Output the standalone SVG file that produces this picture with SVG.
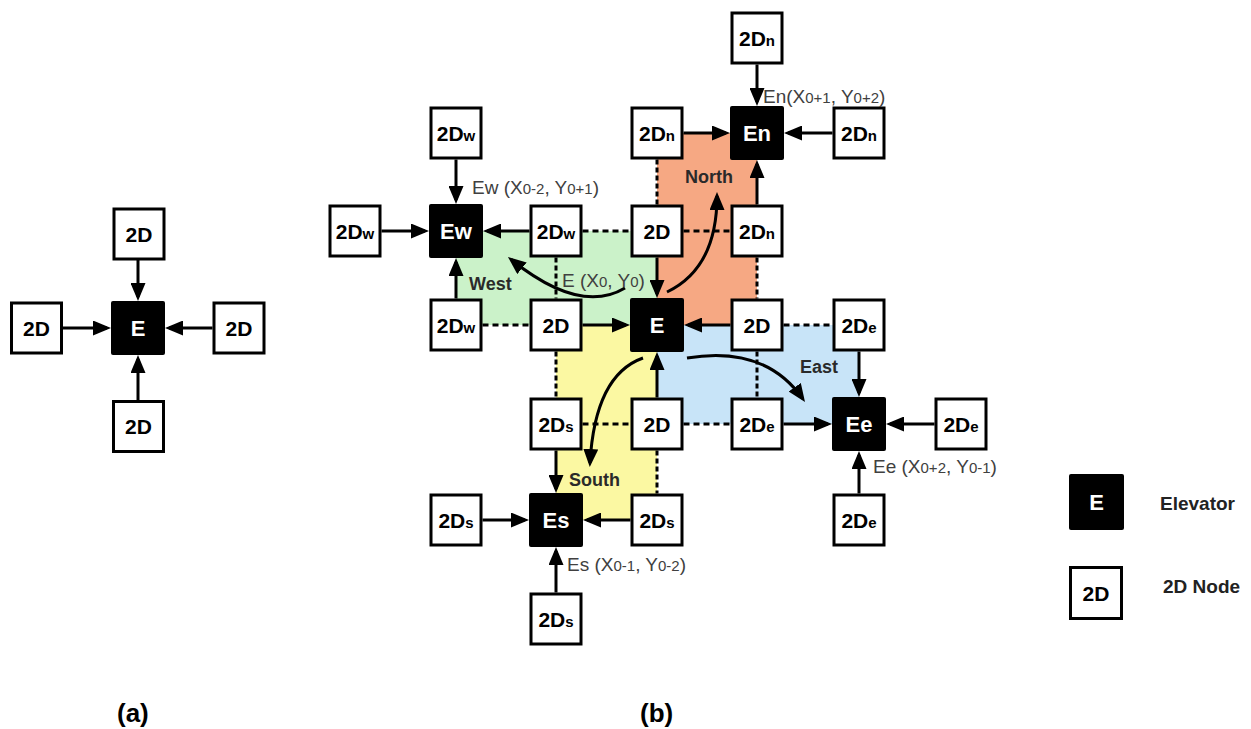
<svg xmlns="http://www.w3.org/2000/svg" width="1251" height="729" viewBox="0 0 1251 729">
<defs>
<marker id="ah" markerUnits="userSpaceOnUse" markerWidth="18" markerHeight="15" refX="14" refY="7.5" orient="auto">
<path d="M0,0 L18,7.5 L0,15 z" fill="#000"/>
</marker>
<style>
.n rect{fill:#fff;stroke:#000;stroke-width:3}
.e rect{fill:#000}
.n text{font-family:"Liberation Sans",Arial,sans-serif;font-weight:bold;font-size:21px;fill:#000;text-anchor:middle}
.e text{font-family:"Liberation Sans",Arial,sans-serif;font-weight:bold;font-size:22px;fill:#fff;text-anchor:middle}
.sub{font-size:15px}
.ar{stroke:#000;stroke-width:3;fill:none;marker-end:url(#ah)}
.dh{stroke:#000;stroke-width:3;stroke-dasharray:6 4;fill:none}
.dv{stroke:#000;stroke-width:3;stroke-dasharray:5 3;fill:none}
.lbl{font-family:"Liberation Sans",Arial,sans-serif;font-size:19px;fill:#404040}
.lbl .s{font-size:15px}
.reg{font-family:"Liberation Sans",Arial,sans-serif;font-size:18px;font-weight:bold;fill:#2a2a2a}
.cap{font-family:"Liberation Sans",Arial,sans-serif;font-size:26px;font-weight:bold;fill:#000}
.leg{font-family:"Liberation Sans",Arial,sans-serif;font-size:19px;font-weight:bold;fill:#222}
</style>
</defs>
<rect width="1251" height="729" fill="#fff"/>

<!-- regions -->
<g id="regions">
<rect x="657" y="133" width="100" height="192" fill="#F6A883"/>
<rect x="456" y="231" width="201" height="94" fill="#CBF2C9"/>
<rect x="556" y="325" width="101" height="195" fill="#FBF8A2"/>
<rect x="657" y="325" width="202" height="99" fill="#C8E4F8"/>
</g>

<!-- connectors -->
<g id="connectors">
<!-- (a) -->
<line class="ar" x1="138" y1="260" x2="138" y2="297"/>
<line class="ar" x1="63" y1="328" x2="107" y2="328"/>
<line class="ar" x1="212.5" y1="328" x2="169" y2="328"/>
<line class="ar" x1="138" y1="400" x2="138" y2="359"/>
<!-- En -->
<line class="ar" x1="757" y1="64.5" x2="757" y2="102"/>
<line class="ar" x1="683.5" y1="133" x2="726" y2="133"/>
<line class="ar" x1="832.5" y1="133" x2="788" y2="133"/>
<line class="ar" x1="757" y1="204.5" x2="757" y2="164"/>
<!-- Ew -->
<line class="ar" x1="456" y1="159.5" x2="456" y2="200"/>
<line class="ar" x1="381.5" y1="231" x2="425" y2="231"/>
<line class="ar" x1="529.5" y1="231" x2="487" y2="231"/>
<line class="ar" x1="456" y1="298.5" x2="456" y2="262"/>
<!-- E -->
<line class="ar" x1="657" y1="257.5" x2="657" y2="294"/>
<line class="ar" x1="582.5" y1="325" x2="626" y2="325"/>
<line class="ar" x1="730.5" y1="325" x2="688" y2="325"/>
<line class="ar" x1="657" y1="397.5" x2="657" y2="356"/>
<!-- Ee -->
<line class="ar" x1="859" y1="351.5" x2="859" y2="393"/>
<line class="ar" x1="783.5" y1="424" x2="828" y2="424"/>
<line class="ar" x1="934.5" y1="424" x2="890" y2="424"/>
<line class="ar" x1="859" y1="493.5" x2="859" y2="455"/>
<!-- Es -->
<line class="ar" x1="556" y1="450.5" x2="556" y2="489"/>
<line class="ar" x1="482.5" y1="520" x2="525" y2="520"/>
<line class="ar" x1="630.5" y1="520" x2="587" y2="520"/>
<line class="ar" x1="556" y1="592.5" x2="556" y2="551"/>
<!-- dashed -->
<line class="dv" x1="657" y1="159.5" x2="657" y2="204.5"/>
<line class="dh" x1="683.5" y1="231" x2="730.5" y2="231"/>
<line class="dv" x1="757" y1="257.5" x2="757" y2="298.5"/>
<line class="dh" x1="783.5" y1="325" x2="832.5" y2="325"/>
<line class="dh" x1="582.5" y1="231" x2="630.5" y2="231"/>
<line class="dv" x1="556" y1="257.5" x2="556" y2="298.5"/>
<line class="dh" x1="482.5" y1="325" x2="529.5" y2="325"/>
<line class="dv" x1="556" y1="351.5" x2="556" y2="397.5"/>
<line class="dh" x1="582.5" y1="424" x2="630.5" y2="424"/>
<line class="dv" x1="657" y1="450.5" x2="657" y2="493.5"/>
<line class="dh" x1="683.5" y1="424" x2="730.5" y2="424"/>
<line class="dv" x1="757" y1="351.5" x2="757" y2="397.5"/>
<!-- curved -->
<path class="ar" d="M625,288 Q580,315 511.1,259.5"/>
<path class="ar" d="M667,292 Q717,268 717,196"/>
<path class="ar" d="M687,358 Q765,345 802.7,398.7"/>
<path class="ar" d="M643,358 Q595,375 590,463"/>
</g>

<!-- (a) nodes -->
<g id="a-2d-top" class="n"><rect x="114" y="209" width="50" height="50"/><text x="139" y="241.5">2D</text></g>
<g id="a-2d-left" class="n"><rect x="11.5" y="303" width="50" height="50"/><text x="36.5" y="335.5">2D</text></g>
<g id="a-2d-right" class="n"><rect x="214" y="303" width="50" height="50"/><text x="239" y="335.5">2D</text></g>
<g id="a-2d-bottom" class="n"><rect x="113.5" y="401.5" width="50" height="50"/><text x="138.5" y="434">2D</text></g>
<g id="a-E" class="e"><rect x="111" y="301" width="54" height="54" rx="2"/><text x="138" y="336">E</text></g>

<!-- (b) nodes -->
<g id="n-2dn-0" class="n"><rect x="732" y="13" width="50" height="50"/><text x="757" y="45.5">2D<tspan class="sub">n</tspan></text></g>
<g id="n-2dn-1" class="n"><rect x="632" y="108" width="50" height="50"/><text x="657" y="140.5">2D<tspan class="sub">n</tspan></text></g>
<g id="n-2dn-2" class="n"><rect x="834" y="108" width="50" height="50"/><text x="859" y="140.5">2D<tspan class="sub">n</tspan></text></g>
<g id="n-2dn-3" class="n"><rect x="732" y="206" width="50" height="50"/><text x="757" y="238.5">2D<tspan class="sub">n</tspan></text></g>
<g id="En" class="e"><rect x="730" y="106" width="54" height="54" rx="2"/><text x="757" y="141">En</text></g>

<g id="w-2dw-0" class="n"><rect x="431" y="108" width="50" height="50"/><text x="456" y="140.5">2D<tspan class="sub">w</tspan></text></g>
<g id="w-2dw-1" class="n"><rect x="330" y="206" width="50" height="50"/><text x="355" y="238.5">2D<tspan class="sub">w</tspan></text></g>
<g id="w-2dw-2" class="n"><rect x="531" y="206" width="50" height="50"/><text x="556" y="238.5">2D<tspan class="sub">w</tspan></text></g>
<g id="w-2dw-3" class="n"><rect x="431" y="300" width="50" height="50"/><text x="456" y="332.5">2D<tspan class="sub">w</tspan></text></g>
<g id="Ew" class="e"><rect x="429" y="204" width="54" height="54" rx="2"/><text x="456" y="239">Ew</text></g>

<g id="c-2d-n" class="n"><rect x="632" y="206" width="50" height="50"/><text x="657" y="238.5">2D</text></g>
<g id="c-2d-w" class="n"><rect x="531" y="300" width="50" height="50"/><text x="556" y="332.5">2D</text></g>
<g id="c-2d-e" class="n"><rect x="732" y="300" width="50" height="50"/><text x="757" y="332.5">2D</text></g>
<g id="c-2d-s" class="n"><rect x="632" y="399" width="50" height="50"/><text x="657" y="431.5">2D</text></g>
<g id="E" class="e"><rect x="630" y="298" width="54" height="54" rx="2"/><text x="657" y="333">E</text></g>

<g id="e-2de-0" class="n"><rect x="834" y="300" width="50" height="50"/><text x="859" y="332.5">2D<tspan class="sub">e</tspan></text></g>
<g id="e-2de-1" class="n"><rect x="732" y="399" width="50" height="50"/><text x="757" y="431.5">2D<tspan class="sub">e</tspan></text></g>
<g id="e-2de-2" class="n"><rect x="936" y="399" width="50" height="50"/><text x="961" y="431.5">2D<tspan class="sub">e</tspan></text></g>
<g id="e-2de-3" class="n"><rect x="834" y="495" width="50" height="50"/><text x="859" y="527.5">2D<tspan class="sub">e</tspan></text></g>
<g id="Ee" class="e"><rect x="832" y="397" width="54" height="54" rx="2"/><text x="859" y="432">Ee</text></g>

<g id="s-2ds-0" class="n"><rect x="531" y="399" width="50" height="50"/><text x="556" y="431.5">2D<tspan class="sub">s</tspan></text></g>
<g id="s-2ds-1" class="n"><rect x="431" y="495" width="50" height="50"/><text x="456" y="527.5">2D<tspan class="sub">s</tspan></text></g>
<g id="s-2ds-2" class="n"><rect x="632" y="495" width="50" height="50"/><text x="657" y="527.5">2D<tspan class="sub">s</tspan></text></g>
<g id="s-2ds-3" class="n"><rect x="531" y="594" width="50" height="50"/><text x="556" y="626.5">2D<tspan class="sub">s</tspan></text></g>
<g id="Es" class="e"><rect x="529" y="493" width="54" height="54" rx="2"/><text x="556" y="528">Es</text></g>

<!-- labels -->
<g id="labels">
<text class="lbl" x="763" y="103">En(X<tspan class="s">0+1</tspan>, Y<tspan class="s">0+2</tspan>)</text>
<text class="lbl" x="472" y="194">Ew (X<tspan class="s">0-2</tspan>, Y<tspan class="s">0+1</tspan>)</text>
<text class="lbl" x="562" y="287">E (X<tspan class="s">0</tspan>, Y<tspan class="s">0</tspan>)</text>
<text class="lbl" x="873" y="473">Ee (X<tspan class="s">0+2</tspan>, Y<tspan class="s">0-1</tspan>)</text>
<text class="lbl" x="567" y="571">Es (X<tspan class="s">0-1</tspan>, Y<tspan class="s">0-2</tspan>)</text>
<text class="reg" x="469" y="290">West</text>
<text class="reg" x="685" y="183">North</text>
<text class="reg" x="800" y="373">East</text>
<text class="reg" x="569" y="486">South</text>
<text class="cap" x="117" y="722">(a)</text>
<text class="cap" x="640" y="722">(b)</text>
</g>

<!-- legend -->
<g id="legend-elevator" class="e"><rect x="1069" y="474" width="55" height="56" rx="2"/><text x="1096.5" y="510">E</text></g>
<text class="leg" x="1160" y="510">Elevator</text>
<g id="legend-2d" class="n"><rect x="1070.5" y="567.5" width="51" height="51"/><text x="1096" y="600.5">2D</text></g>
<text class="leg" x="1163" y="593">2D Node</text>
</svg>
